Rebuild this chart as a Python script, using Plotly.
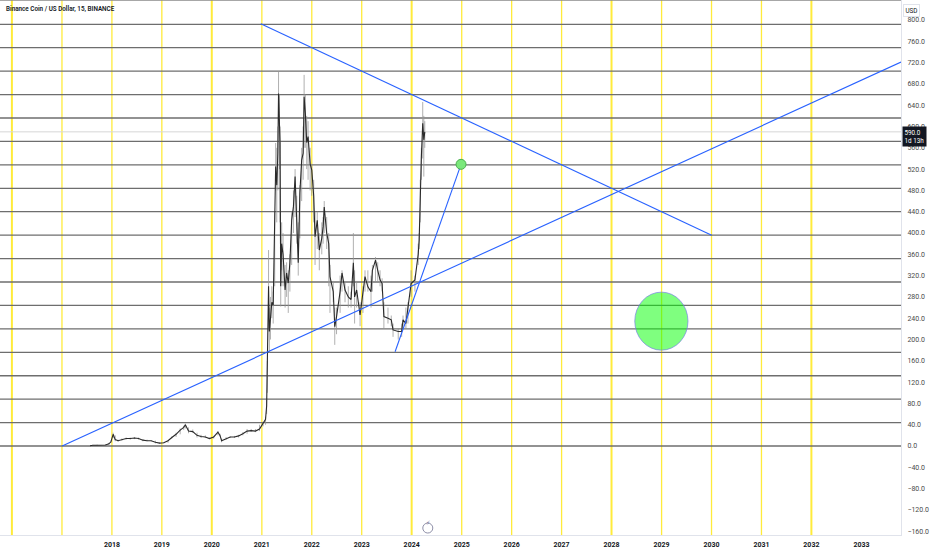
import plotly.graph_objects as go

# ---------------- data ----------------
price_dates = [
    "2017-07-25", "2017-08-15", "2017-09-15", "2017-10-15", "2017-11-15", "2017-12-10", "2017-12-25",
    "2018-01-10", "2018-01-25", "2018-02-15", "2018-03-15", "2018-04-15", "2018-05-15", "2018-06-15",
    "2018-07-15", "2018-08-15", "2018-09-15", "2018-10-15", "2018-11-15", "2018-12-15",
    "2019-01-15", "2019-02-15", "2019-03-15", "2019-04-15", "2019-05-15", "2019-06-10", "2019-06-22",
    "2019-07-15", "2019-08-15", "2019-09-15", "2019-10-15", "2019-11-15", "2019-12-15",
    "2020-01-15", "2020-02-15", "2020-03-01", "2020-03-13", "2020-04-15", "2020-05-15", "2020-06-15",
    "2020-07-15", "2020-08-15", "2020-09-15", "2020-10-15", "2020-11-15", "2020-12-15",
    "2021-01-10", "2021-01-28", "2021-02-05", "2021-02-10", "2021-02-19", "2021-02-25", "2021-03-05",
    "2021-03-15", "2021-03-25", "2021-04-05", "2021-04-12", "2021-04-20", "2021-04-28", "2021-05-03",
    "2021-05-10", "2021-05-14", "2021-05-19", "2021-05-26", "2021-06-05", "2021-06-20", "2021-07-01",
    "2021-07-13", "2021-07-25", "2021-08-07", "2021-08-20", "2021-09-01", "2021-09-13", "2021-09-24",
    "2021-10-06", "2021-10-19", "2021-10-30", "2021-11-06", "2021-11-15", "2021-11-25", "2021-12-05",
    "2021-12-20", "2022-01-01", "2022-01-15", "2022-01-25", "2022-02-10", "2022-02-25", "2022-03-15",
    "2022-03-25", "2022-04-02", "2022-04-20", "2022-05-05", "2022-05-14", "2022-06-07", "2022-06-18",
    "2022-07-01", "2022-07-27", "2022-08-10", "2022-09-01", "2022-09-25", "2022-10-15", "2022-11-01",
    "2022-11-10", "2022-11-25", "2022-12-20", "2023-01-10", "2023-01-25", "2023-02-15", "2023-03-10",
    "2023-03-20", "2023-04-12", "2023-04-28", "2023-05-15", "2023-05-30", "2023-06-12", "2023-07-12",
    "2023-08-05", "2023-08-18", "2023-09-25", "2023-10-20", "2023-10-30", "2023-11-20", "2023-12-05",
    "2023-12-28", "2024-01-25", "2024-02-18", "2024-02-25", "2024-03-04", "2024-03-12", "2024-03-22",
    "2024-03-30", "2024-04-06",
]
price_close = [
    0.5, 1.5, 1.5, 1.5, 2, 4, 8,
    22, 12, 10, 12, 14, 14, 15,
    14, 11, 10, 10, 7, 5.5,
    6, 10, 16, 22, 30, 35, 40,
    28, 27, 20, 18, 17, 14,
    17, 26, 20, 10, 14, 17, 17,
    19, 23, 28, 29, 28, 32,
    42, 50, 75, 140, 300, 215, 240,
    270, 265, 400, 525, 490, 550, 662,
    600, 569, 300, 380, 360, 293, 325,
    306, 344, 424, 450, 506, 424, 344,
    475, 537, 550, 656, 625, 570, 581,
    530, 518, 470, 393, 424, 368, 390,
    412, 449, 400, 380, 318, 290, 224,
    243, 290, 325, 293, 280, 275, 344,
    280, 293, 246, 290, 318, 299, 290,
    330, 349, 330, 312, 305, 243, 240,
    237, 218, 215, 215, 237, 230, 262,
    305, 312, 360, 387, 481, 543, 606,
    575, 590,
]
price_high = [
    0.5, 2, 2.5, 2, 3, 6, 10,
    25, 20, 12, 14, 16, 16, 17,
    16, 13, 12, 11, 10, 7,
    7, 11, 18, 25, 33, 38, 42,
    35, 31, 25, 21, 20, 16,
    19, 28, 23, 14, 17, 18, 19,
    21, 26, 32, 32, 32, 40,
    45, 55, 90, 160, 368, 260, 280,
    300, 290, 440, 569, 560, 600, 703,
    660, 600, 420, 420, 400, 340, 345,
    330, 360, 440, 480, 520, 470, 420,
    490, 560, 600, 697, 660, 620, 610,
    560, 530, 500, 440, 440, 400, 420,
    430, 460, 430, 400, 340, 310, 260,
    260, 320, 330, 310, 300, 290, 400,
    330, 310, 270, 300, 330, 330, 320,
    340, 355, 345, 330, 315, 270, 260,
    245, 230, 220, 230, 245, 260, 270,
    330, 320, 380, 400, 500, 560, 646,
    620, 610,
]
price_low = [
    0.1, 1, 1, 1.2, 1.5, 2, 6,
    15, 9, 8, 10, 12, 12, 13,
    12, 9, 9, 9, 5, 4.5,
    5, 6, 14, 17, 22, 30, 33,
    24, 25, 16, 15, 15, 13,
    14, 20, 18, 7, 12, 15, 15,
    16, 20, 23, 27, 26, 28,
    37, 40, 60, 100, 220, 175, 200,
    240, 230, 300, 480, 420, 480, 600,
    520, 420, 262, 330, 300, 260, 280,
    250, 290, 340, 400, 430, 380, 320,
    390, 460, 500, 560, 560, 520, 500,
    480, 470, 420, 340, 370, 330, 360,
    380, 400, 370, 300, 250, 270, 190,
    210, 250, 290, 270, 260, 260, 300,
    230, 260, 225, 250, 290, 290, 260,
    290, 310, 310, 300, 290, 220, 230,
    225, 205, 200, 205, 220, 220, 230,
    280, 290, 340, 370, 420, 500, 540,
    506, 560,
]

last_price = 590
last_price_label = "590.0<br>1d 13h"

# support / resistance levels (horizontal drawings)
levels = [0, 44, 88, 132, 176, 220, 264, 308, 352, 396, 440, 484, 528, 572, 616, 660, 704, 748, 792]

# yearly vertical drawings and axis tick years
line_years = [2016, 2017, 2018, 2019, 2020, 2021, 2022, 2023, 2024, 2025, 2026, 2027, 2028, 2029, 2030, 2031, 2032]
tick_years = [2018, 2019, 2020, 2021, 2022, 2023, 2024, 2025, 2026, 2027, 2028, 2029, 2030, 2031, 2032, 2033]

# trend-line drawings (date, price)
rise_x = ["2017-01-02", "2033-10-17"]
rise_y = [0, 721]
fall_x = ["2020-12-24", "2030-01-02"]
fall_y = [793, 396]
steep_x = ["2023-09-02", "2024-12-27"]
steep_y = [177, 529]
target_x = ["2024-12-27"]
target_y = [529]
zone_x = ["2028-06-19", "2029-07-13"]
zone_y = [180, 289]

x_range = ["2015-10-06", "2033-10-17"]
y_range = [-167.1, 837.6]
y_ticks = [-160, -120, -80, -40, 0, 40, 80, 120, 160, 200, 240, 280, 320, 360, 400, 440, 480, 520, 560, 600, 640, 680, 720, 760, 800]

# ---------------- figure ----------------
fig = go.Figure()

err_plus = [h - c for h, c in zip(price_high, price_close)]
err_minus = [c - l for c, l in zip(price_close, price_low)]

fig.add_trace(go.Scatter(
    x=price_dates, y=price_close, mode="lines",
    line=dict(color="#2a2a2a", width=1.1),
    error_y=dict(type="data", symmetric=False, array=err_plus, arrayminus=err_minus,
                 color="rgba(150,150,150,0.75)", thickness=1, width=0),
    hoverinfo="skip", showlegend=False,
))

blue = "#2962FF"
for xs, ys in [(rise_x, rise_y), (fall_x, fall_y), (steep_x, steep_y)]:
    fig.add_trace(go.Scatter(x=xs, y=ys, mode="lines", line=dict(color=blue, width=1.1),
                             hoverinfo="skip", showlegend=False))

fig.add_trace(go.Scatter(x=target_x, y=target_y, mode="markers",
                         marker=dict(size=10, color="#7BE87B", line=dict(color="#4CAF50", width=1)),
                         hoverinfo="skip", showlegend=False))

shapes = []
for yr in line_years:
    shapes.append(dict(type="line", xref="x", yref="paper", x0=f"{yr}-01-01", x1=f"{yr}-01-01",
                       y0=0, y1=1, layer="below",
                       line=dict(color="#FFEB3B", width=2 if yr % 4 == 0 else 1.3)))
shapes.append(dict(type="line", xref="paper", yref="y", x0=0, x1=1, y0=last_price, y1=last_price,
                   layer="below", line=dict(color="#D6D6D6", width=1)))
for lv in levels:
    shapes.append(dict(type="line", xref="paper", yref="y", x0=0, x1=1, y0=lv, y1=lv,
                       layer="below", line=dict(color="#6E6E6E", width=1.3)))
shapes.append(dict(type="circle", xref="x", yref="y", x0=zone_x[0], x1=zone_x[1],
                   y0=zone_y[0], y1=zone_y[1], layer="above",
                   fillcolor="rgba(0,255,0,0.5)", line=dict(color="rgba(120,130,230,0.7)", width=1)))
# top frame line
shapes.append(dict(type="line", xref="paper", yref="paper", x0=0, x1=1, y0=1, y1=1,
                   line=dict(color="#8A8A8A", width=1.5)))
# small lightning icon circle
shapes.append(dict(type="circle", xref="x", yref="paper", xsizemode="pixel", ysizemode="pixel",
                   xanchor="2024-04-28", yanchor=0.013, x0=-5, x1=5, y0=-5, y1=5,
                   line=dict(color="#8E8FA8", width=1), fillcolor="white"))

annotations = [
    dict(text="Binance Coin / US Dollar, 15, BINANCE", xref="paper", yref="paper", x=0, y=1,
         xanchor="left", yanchor="middle", xshift=4, yshift=-9, showarrow=False,
         font=dict(family="Roboto", size=6.3, color="#131722", weight=600)),
    dict(text="USD", xref="paper", yref="paper", x=1, y=1, xanchor="left", yanchor="middle",
         xshift=2, yshift=-10, showarrow=False, bgcolor="white", bordercolor="#E0E3EB",
         borderwidth=1, borderpad=1.5, font=dict(family="Roboto", size=6.3, color="#131722")),
    dict(text=last_price_label, xref="paper", yref="y", x=1, y=last_price, xanchor="left",
         yanchor="top", xshift=1, yshift=6, showarrow=False, bgcolor="#131722", borderpad=1.5,
         align="left", font=dict(family="Roboto", size=6.3, color="white")),
    dict(text="⚡", xref="x", yref="paper", x="2024-04-28", y=0.013, showarrow=False,
         font=dict(family="DejaVu Sans", size=6, color="#7A7BA0")),
]

fig.update_layout(
    width=932, height=550, autosize=False,
    margin=dict(l=0, r=31, t=0, b=15),
    paper_bgcolor="white", plot_bgcolor="white",
    shapes=shapes, annotations=annotations, showlegend=False,
    xaxis=dict(type="date", range=x_range, showgrid=False, zeroline=False,
               tickvals=[f"{y}-01-01" for y in tick_years], ticktext=[str(y) for y in tick_years],
               ticks="", ticklabelstandoff=3,
               tickfont=dict(family="Roboto", size=7, color="#131722", weight=700),
               showline=True, linecolor="#E0E3EB", linewidth=1),
    yaxis=dict(side="right", range=y_range, showgrid=False, zeroline=False,
               tickvals=y_ticks, tickformat=".1f", ticks="", ticklabelstandoff=4,
               tickfont=dict(family="Roboto", size=7, color="#4A4A4A"),
               showline=True, linecolor="#E0E3EB", linewidth=1),
)

fig.write_html("out.html", config={"displayModeBar": False},
               post_script="document.body.style.margin='0';document.body.style.overflow='hidden';")
